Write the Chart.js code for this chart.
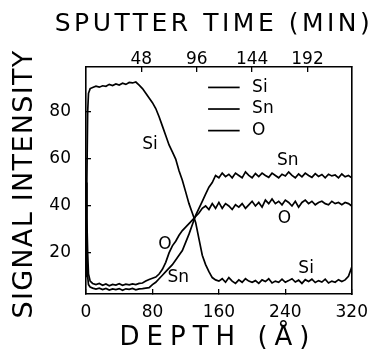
<!DOCTYPE html>
<html>
<head>
<meta charset="utf-8">
<script src="https://cdn.jsdelivr.net/npm/chart.js@4.4.0/dist/chart.umd.min.js"></script>
<style>
  body { margin: 0; background: #fff; }
  #wrap { width: 381px; height: 354px; }
</style>
</head>
<body>
<div id="wrap"><canvas id="chart" width="381" height="354"></canvas></div>
<script>
// depth in Angstrom
const depth = [0, 1, 2, 3, 5,
  8, 12, 16, 20, 24, 28, 32, 36, 40, 44, 48, 52, 56, 60, 64, 68, 72, 76, 80,
  84, 88, 92, 96, 100, 104, 108, 112, 116, 120, 124, 128, 132, 136, 140, 144, 148, 152, 156, 160,
  164, 168, 172, 176, 180, 184, 188, 192, 196, 200, 204, 208, 212, 216, 220, 224, 228, 232, 236, 240,
  244, 248, 252, 256, 260, 264, 268, 272, 276, 280, 284, 288, 292, 296, 300, 304, 308, 312, 316, 320];

const si = [10, 50, 80, 88, 90,
  90.5, 91, 90.6, 91.2, 91, 91.8, 91.3, 92, 91.5, 92.3, 91.8, 92.6, 92.4, 92.8, 91.5, 90, 88, 86, 84,
  81.5, 78, 74, 70, 66, 63, 60, 55, 51, 46, 41, 37, 33, 26, 19, 15, 12, 9.5, 8.5, 8,
  9, 7.5, 9.5, 8, 7, 8.5, 7.5, 9, 8, 7.5, 8.2, 7, 8.5, 7.8, 9, 7.2, 8, 7.5, 8.8, 7.5,
  8.2, 9, 7.6, 8.4, 7, 8.6, 7.8, 8.8, 7.4, 8.2, 7.6, 8.8, 7.2, 8, 7.5, 8.6, 7.8, 8.5, 10, 14];

const sn = [28, 18, 10, 6.5, 5.5,
  5, 4.6, 5, 4.4, 4.9, 4.2, 4.7, 4.4, 4.8, 4.1, 4.7, 4.5, 4.9, 4.3, 4.7, 4.8, 5, 5.2, 6.5,
  7.5, 9, 10.5, 12, 13.5, 15, 17, 19, 21, 24.5, 28, 32, 36, 39, 42, 45, 48, 50, 53, 52,
  54, 52.5, 53.5, 52, 54, 53, 52, 54.5, 53, 52, 53.8, 52.5, 54, 53, 52.2, 54, 53, 52, 53.5, 52.8,
  54.5, 53, 52, 53.6, 52.4, 54, 53, 52.2, 53.8, 52.6, 53.4, 52, 53.5, 52.8, 53.2, 52, 53.6, 52.4, 53, 52];

const oxy = [50, 35, 20, 11, 8,
  7, 6.5, 7, 6.2, 6.8, 6, 6.6, 6.3, 6.9, 6.2, 6.7, 6.4, 6.8, 6.5, 7, 7.2, 8, 8.7, 9.2,
  9.7, 11, 13, 16, 20, 23, 25, 27.5, 29.5, 31, 32.5, 34, 35.5, 37, 39, 40, 38.5, 41, 39, 41.5,
  39, 41, 40, 38.5, 40.5, 39.5, 41, 39, 40.5, 42, 40, 41.5, 39.5, 42.5, 41, 43, 41, 42, 40.5, 42.5,
  41.5, 40, 42, 39.5, 41.5, 42.5, 41, 42, 40.5, 41.5, 42, 41, 40.5, 42, 41, 41.5, 40.5, 41.5, 41, 40];

const depthTicks = [0, 80, 160, 240, 320];
const timeTicks = [48, 96, 144, 192];
const intensityTicks = [20, 40, 60, 80];
const seriesNames = ['Si', 'Sn', 'O'];

// curve labels placed in data coordinates
const curveLabels = [
  { text: 'Si', x: 77, y: 66 },
  { text: 'Sn', x: 243, y: 59.5 },
  { text: 'O', x: 239, y: 34.5 },
  { text: 'O', x: 95, y: 23.5 },
  { text: 'Sn', x: 111, y: 9.5 },
  { text: 'Si', x: 265, y: 13.5 }
];

const pts = (vals) => depth.map((d, i) => ({ x: d, y: vals[i] }));

const tickFont = { family: 'DejaVu Sans', size: 17 };

const textPlugin = {
  id: 'texts',
  afterDatasetsDraw(chart) {
    const { ctx, scales } = chart;
    const xs = scales.x, ys = scales.y;
    ctx.save();
    ctx.fillStyle = '#000';
    ctx.strokeStyle = '#000';

    // curve labels
    ctx.font = '17px "DejaVu Sans"';
    ctx.textAlign = 'center';
    ctx.textBaseline = 'middle';
    curveLabels.forEach(l => ctx.fillText(l.text, xs.getPixelForValue(l.x), ys.getPixelForValue(l.y)));

    // legend inside the plot
    ctx.textAlign = 'left';
    ctx.lineWidth = 1.7;
    seriesNames.forEach((name, i) => {
      const yv = ys.getPixelForValue(90.5 - i * 9.2);
      ctx.beginPath();
      ctx.moveTo(xs.getPixelForValue(147), yv);
      ctx.lineTo(xs.getPixelForValue(185), yv);
      ctx.stroke();
      ctx.fillText(name, xs.getPixelForValue(200), yv);
    });

    // axis titles
    ctx.textAlign = 'center';
    ctx.font = '25px "DejaVu Sans"';
    ctx.letterSpacing = '3.5px';
    ctx.fillText('SPUTTER TIME (MIN)', 214, 24);

    ctx.font = '26px "DejaVu Sans"';
    ctx.letterSpacing = '7px';
    ctx.fillText('DEPTH (Å)', 218, 338);

    ctx.font = '27px "DejaVu Sans"';
    ctx.letterSpacing = '1.3px';
    ctx.translate(25, 184);
    ctx.rotate(-Math.PI / 2);
    ctx.fillText('SIGNAL INTENSITY', 0, 0);
    ctx.restore();
  }
};

const lineStyle = { borderColor: '#000', borderWidth: 1.7, pointRadius: 0, tension: 0, fill: false };

new Chart(document.getElementById('chart'), {
  type: 'line',
  data: {
    datasets: [
      { label: 'Si', data: pts(si), ...lineStyle },
      { label: 'Sn', data: pts(sn), ...lineStyle },
      { label: 'O', data: pts(oxy), ...lineStyle }
    ]
  },
  options: {
    responsive: false,
    animation: false,
    layout: { padding: 0 },
    plugins: { legend: { display: false }, tooltip: { enabled: false } },
    scales: {
      x: {
        type: 'linear', position: 'bottom', min: 0, max: 320,
        afterBuildTicks: s => { s.ticks = depthTicks.map(v => ({ value: v })); },
        afterFit: s => { s.height = 60; },
        ticks: { color: '#000', font: tickFont, padding: 13, maxRotation: 0 },
        grid: { drawOnChartArea: false, tickLength: -5, color: '#000', lineWidth: 1.3 },
        border: { color: '#000', width: 1.6 }
      },
      xTop: {
        type: 'linear', position: 'top', min: 0, max: 230.4,
        afterBuildTicks: s => { s.ticks = timeTicks.map(v => ({ value: v })); },
        afterFit: s => { s.height = 67; },
        ticks: { color: '#000', font: tickFont, padding: 2, maxRotation: 0 },
        grid: { drawOnChartArea: false, tickLength: -5, color: '#000', lineWidth: 1.3 },
        border: { color: '#000', width: 1.6 }
      },
      y: {
        type: 'linear', position: 'left', min: 2.5, max: 99.2,
        afterBuildTicks: s => { s.ticks = intensityTicks.map(v => ({ value: v })); },
        afterFit: s => { s.width = 86; },
        ticks: { color: '#000', font: tickFont, padding: 20 },
        grid: { drawOnChartArea: false, tickLength: -5, color: '#000', lineWidth: 1.3 },
        border: { color: '#000', width: 1.6 }
      },
      yRight: {
        type: 'linear', position: 'right', min: 2.5, max: 99.2,
        afterFit: s => { s.width = 29; },
        ticks: { display: false },
        grid: { display: false },
        border: { color: '#000', width: 1.6 }
      }
    }
  },
  plugins: [textPlugin]
});
</script>
</body>
</html>
